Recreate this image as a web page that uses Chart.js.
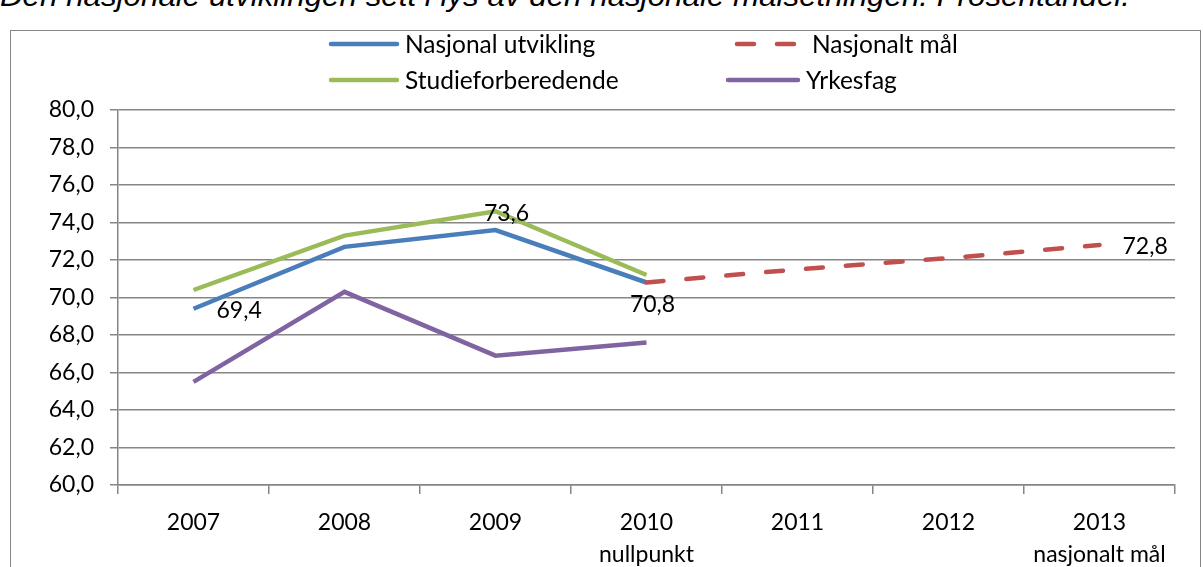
<!DOCTYPE html>
<html><head><meta charset="utf-8">
<script src="https://cdn.jsdelivr.net/npm/chart.js@4/dist/chart.umd.min.js"></script>
<style>
html,body{margin:0;padding:0;background:#fff;}
#wrap{position:relative;width:1203px;height:567px;overflow:hidden;}
#title{position:absolute;left:0;top:-19px;font-family:"Liberation Sans";font-style:italic;font-size:30px;line-height:30px;white-space:nowrap;color:#000;transform-origin:0 0;}
#box{position:absolute;left:10px;top:30px;width:1189px;height:600px;border:1px solid #868686;}
canvas{position:absolute;left:0;top:0;}
</style></head>
<body><div id="wrap">
<div id="title">Den nasjonale utviklingen sett i lys av den nasjonale målsetningen. Prosentandel.</div>
<div id="box"></div>
<canvas id="c" width="1203" height="567"></canvas>
</div>
<script>
const categories = [["2007"],["2008"],["2009"],["2010","nullpunkt"],["2011"],["2012"],["2013","nasjonalt mål"]];
const nasjonalUtvikling = [69.4, 72.7, 73.6, 70.8, null, null, null];
const nasjonaltMaal = [null, null, null, 70.8, 71.5, 72.1, 72.8];
const studieforberedende = [70.4, 73.3, 74.6, 71.2, null, null, null];
const yrkesfag = [65.5, 70.3, 66.9, 67.6, null, null, null];
const yTicks = [60,62,64,66,68,70,72,74,76,78,80];
// labels: [datasetIndex, pointIndex, text, position]
const dataLabels = [[0,0,"69,4","right"],[0,2,"73,6","above"],[0,3,"70,8","below"],[1,6,"72,8","right"]];

// fit the italic title to the reference width
(function(){
  const t = document.getElementById('title');
  const w = t.getBoundingClientRect().width;
  t.style.transform = 'scaleX(' + (1130 / w) + ')';
})();

const FONT = "Lato";
const DASH = [17,23];
const legendPlugin = {
  id:'customLegend',
  afterDraw(chart){
    const ctx = chart.ctx;
    const items = [
      {ds:0, lx:331, y:44, tx:405},
      {ds:1, lx:737, y:44, tx:812},
      {ds:2, lx:331, y:80, tx:405},
      {ds:3, lx:728, y:80, tx:806}
    ];
    ctx.save();
    ctx.font = "24.5px " + FONT;
    ctx.textBaseline = "middle";
    ctx.fillStyle = "#000";
    items.forEach(it=>{
      const d = chart.data.datasets[it.ds];
      ctx.beginPath();
      ctx.strokeStyle = d.borderColor;
      ctx.lineWidth = 4.5;
      ctx.lineCap = "round";
      ctx.setLineDash(d.borderDash ? d.borderDash : []);
      ctx.moveTo(it.lx, it.y);
      ctx.lineTo(d.borderDash ? it.tx-15 : it.tx-8, it.y);
      ctx.stroke();
      ctx.setLineDash([]);
      ctx.fillText(d.label, it.tx, it.y+1);
    });
    ctx.restore();
  }
};
const labelPlugin = {
  id:'dataLabels',
  afterDatasetsDraw(chart){
    const ctx = chart.ctx;
    ctx.save();
    ctx.font = "23px " + FONT;
    ctx.fillStyle = "#000";
    ctx.textBaseline = "middle";
    dataLabels.forEach(([di,pi,txt,pos])=>{
      const el = chart.getDatasetMeta(di).data[pi];
      let x = el.x, y = el.y;
      if(pos==="right"){ctx.textAlign="left"; x += 23; y += 1.5;}
      else if(pos==="above"){ctx.textAlign="center"; x += 11; y -= 16.5;}
      else {ctx.textAlign="center"; x += 6; y += 22;}
      ctx.fillText(txt, x, y);
    });
    ctx.restore();
  }
};

new Chart(document.getElementById('c'), {
  type:'line',
  data:{
    labels: categories,
    datasets:[
      {label:"Nasjonal utvikling", data:nasjonalUtvikling, borderColor:"#4A7EBB", borderWidth:4.5, pointRadius:0, tension:0, order:2},
      {label:"Nasjonalt mål", data:nasjonaltMaal, borderColor:"#C0504D", borderWidth:4.5, borderDash:DASH, borderCapStyle:'round', pointRadius:0, tension:0, order:1},
      {label:"Studieforberedende", data:studieforberedende, borderColor:"#9BBB59", borderWidth:4.5, pointRadius:0, tension:0, order:3},
      {label:"Yrkesfag", data:yrkesfag, borderColor:"#8064A2", borderWidth:4.5, pointRadius:0, tension:0, order:4}
    ]
  },
  options:{
    responsive:false, animation:false,
    layout:{padding:{top:110,right:28,left:0,bottom:0}},
    plugins:{legend:{display:false}, tooltip:{enabled:false}},
    scales:{
      x:{
        offset:true,
        grid:{offset:true, drawOnChartArea:false, drawTicks:true, tickLength:9, color:"#868686", lineWidth:1.5},
        border:{display:true, color:"#868686", width:1.5},
        ticks:{color:"#000", font:{family:FONT, size:23, lineHeight:1.4}, padding:12, maxRotation:0, autoSkip:false},
        afterFit(s){ s.height = 82; }
      },
      y:{
        min:60, max:80,
        afterBuildTicks(s){ s.ticks = yTicks.map(v=>({value:v})); },
        grid:{color:"#868686", lineWidth:1.5, tickLength:8},
        border:{display:true, color:"#868686", width:1.5},
        ticks:{color:"#000", font:{family:FONT, size:23}, padding:16,
          callback:v=>v.toFixed(1).replace('.',',')},
        afterFit(s){ s.width = 118; }
      }
    }
  },
  plugins:[legendPlugin, labelPlugin]
});
</script>
</body></html>
